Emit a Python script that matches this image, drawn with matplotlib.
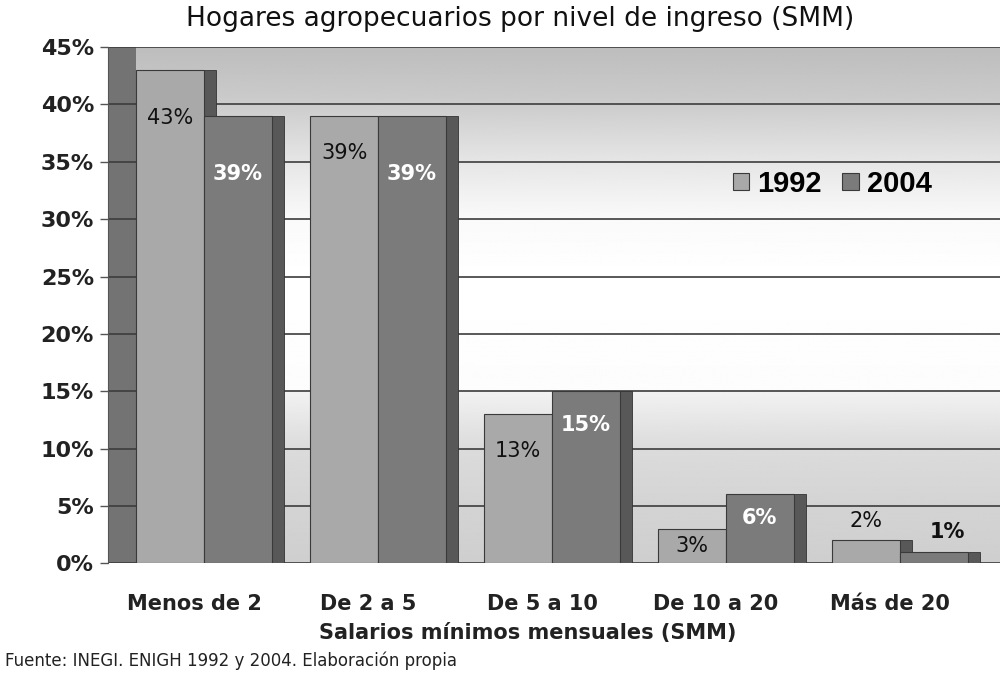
import numpy as np
import matplotlib
matplotlib.use("Agg")
import matplotlib.pyplot as plt
from matplotlib.patches import Rectangle

categories = ["Menos de 2", "De 2 a 5", "De 5 a 10", "De 10 a 20", "Más de 20"]
series_names = ["1992", "2004"]
values_1992 = [43, 39, 13, 3, 2]
values_2004 = [39, 39, 15, 6, 1]
yticks = [0, 5, 10, 15, 20, 25, 30, 35, 40, 45]
ytick_labels = [f"{v}%" for v in yticks]

plt.rcParams['font.family'] = ['DejaVu Sans']

fig = plt.figure(figsize=(10, 6.73), dpi=100)
fig.patch.set_facecolor('white')
ax = fig.add_axes([0.108, 0.163, 0.892, 0.767])

x = np.arange(len(categories))
w = 0.39
depth = 0.07
c92, c04, cside = '#a9a9a9', '#7b7b7b', '#585858'

xmin, xmax = -0.552, 4.575
ax.set_xlim(xmin, xmax)
ax.set_ylim(0, 45)

# background gradient (back wall)
yy = np.linspace(0, 45, 900)
shade = np.interp(yy, [0, 5, 10, 14.99, 15.0, 25, 30, 35, 40, 45],
                  [0.81, 0.83, 0.86, 0.95, 0.99, 1.0, 0.98, 0.90, 0.80, 0.74])
grad = np.repeat(shade[:, None], 10, axis=1)
ax.imshow(grad, cmap='gray', vmin=0, vmax=1, aspect='auto',
          extent=[xmin, xmax, 0, 45], origin='lower', zorder=0)

# left wall
ax.add_patch(Rectangle((xmin, 0), -xmin - w, 45, facecolor='#737373',
                       edgecolor='none', zorder=1))

for yv in yticks:
    ax.axhline(yv, color='#3c3c3c', lw=1.2, zorder=2)

# side faces
for xi, v in zip(x, values_1992):
    ax.add_patch(Rectangle((xi, 0), depth, v, facecolor=cside, edgecolor='#333333', lw=0.6, zorder=3))
for xi, v in zip(x, values_2004):
    ax.add_patch(Rectangle((xi + w, 0), depth, v, facecolor=cside, edgecolor='#333333', lw=0.6, zorder=3))

ax.bar(x - w, values_1992, width=w, align='edge', color=c92,
       edgecolor='#3a3a3a', lw=0.8, zorder=4, label=series_names[0])
ax.bar(x, values_2004, width=w, align='edge', color=c04,
       edgecolor='#3a3a3a', lw=0.8, zorder=4, label=series_names[1])

for xi, v in zip(x, values_1992):
    if v >= 40:
        off = -48
    elif v >= 10:
        off = -37
    elif v >= 3:
        off = -17
    else:
        off = 19
    ax.annotate(f"{v}%", (xi - w / 2, v), xytext=(0, off), textcoords='offset pixels',
                ha='center', va='center', fontsize=15, color='#111111', zorder=6)
for xi, v in zip(x, values_2004):
    if v >= 30:
        off, col = -58, 'white'
    elif v >= 10:
        off, col = -34, 'white'
    elif v >= 5:
        off, col = -24, 'white'
    else:
        off, col = 20, '#111111'
    ax.annotate(f"{v}%", (xi + w / 2 + (0.08 if v < 5 else 0), v), xytext=(0, off),
                textcoords='offset pixels', ha='center', va='center', fontsize=15,
                color=col, fontweight='bold', zorder=6)

ax.set_yticks(yticks)
ax.set_yticklabels(ytick_labels, fontsize=16, fontweight='bold', color='#222222')
# category labels sit slightly left of the bar-pair centre (3D perspective)
ax.set_xticks(x - 0.057)
ax.set_xticklabels(categories, fontsize=15, fontweight='bold', color='#222222')
ax.tick_params(axis='x', length=0, pad=22)
ax.tick_params(axis='y', length=6, width=1, color='#555555', pad=4)
for s in ['top', 'right', 'bottom']:
    ax.spines[s].set_visible(False)
ax.spines['left'].set_color('#555555')

ax.set_xlabel("Salarios mínimos mensuales (SMM)", fontsize=15, fontweight='bold',
              color='#222222')
ax.xaxis.set_label_coords(0.47, -0.115)
fig.text(0.52, 0.972, "Hogares agropecuarios por nivel de ingreso (SMM)", ha='center',
         va='center', fontsize=19, color='#111111')
fig.text(0.005, 0.018, "Fuente: INEGI. ENIGH 1992 y 2004. Elaboración propia",
         ha='left', va='center', fontsize=12, color='#222222')

ax.legend(loc='center left', bbox_to_anchor=(0.671, 0.735), frameon=False,
          ncol=2, handlelength=0.55, handleheight=0.55,
          handletextpad=0.3, columnspacing=0.7,
          prop={'family': 'Liberation Sans', 'weight': 'bold', 'size': 21})

fig.savefig("out.png", dpi=100)
